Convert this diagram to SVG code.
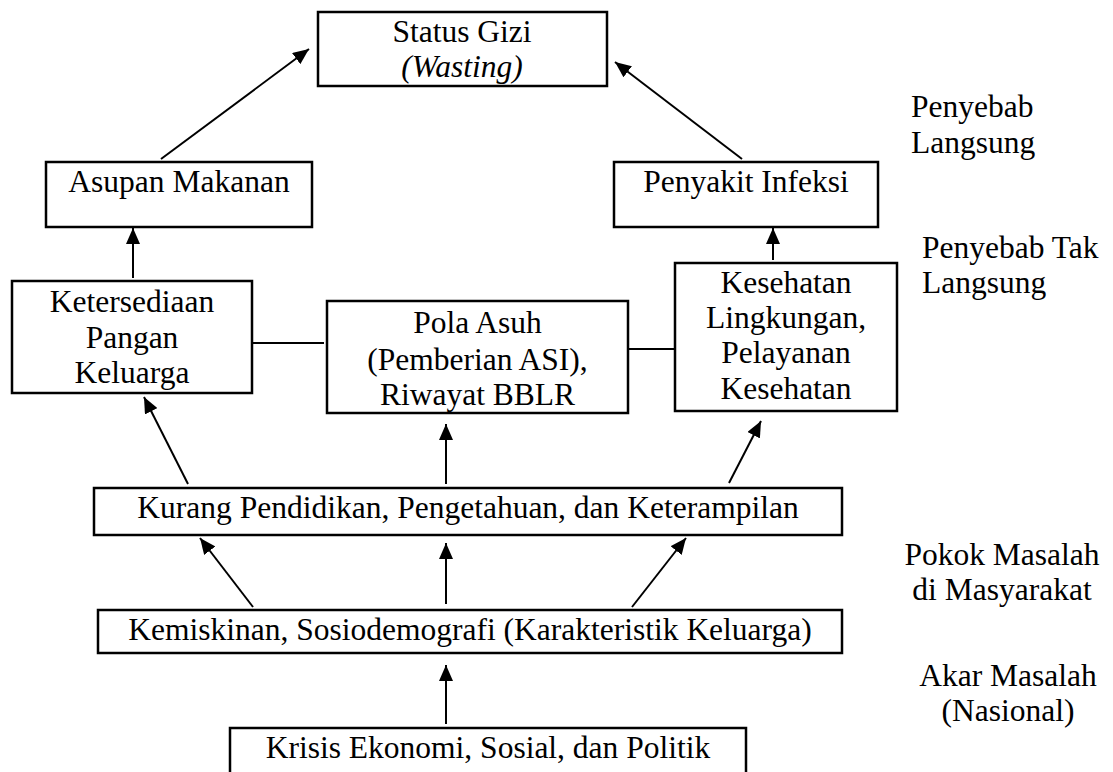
<svg xmlns="http://www.w3.org/2000/svg" width="1113" height="772" viewBox="0 0 1113 772">
<style>
text{font-family:"Liberation Serif","Times New Roman",serif;font-size:31.5px;fill:#000}
.c{text-anchor:middle}
.box{fill:#fff;stroke:#000;stroke-width:2.5}
.ln{stroke:#000;stroke-width:2;fill:none}
.ar{marker-end:url(#ah)}
</style>
<defs>
<marker id="ah" markerUnits="userSpaceOnUse" markerWidth="16" markerHeight="14" refX="16" refY="7" orient="auto">
<path d="M0,0 L16,7 L0,14 z" fill="#000"/>
</marker>
</defs>
<rect width="1113" height="772" fill="#fff"/>
<g id="connectors">
<line class="ln ar" x1="161" y1="159" x2="309" y2="49"/>
<line class="ln ar" x1="742" y1="159" x2="615" y2="62"/>
<line class="ln ar" x1="133" y1="278" x2="133" y2="228"/>
<line class="ln ar" x1="773" y1="260" x2="773" y2="228"/>
<line class="ln" x1="249" y1="343" x2="324" y2="343"/>
<line class="ln" x1="625" y1="349" x2="675" y2="349"/>
<line class="ln ar" x1="188" y1="484" x2="144" y2="397"/>
<line class="ln ar" x1="446" y1="484" x2="446" y2="424"/>
<line class="ln ar" x1="729" y1="483" x2="761" y2="421"/>
<line class="ln ar" x1="253" y1="607" x2="200" y2="538"/>
<line class="ln ar" x1="446" y1="604" x2="446" y2="543"/>
<line class="ln ar" x1="632" y1="607" x2="686" y2="538"/>
<line class="ln ar" x1="446" y1="724" x2="446" y2="665"/>
</g>
<g id="status">
<rect class="box" x="318" y="12" width="289" height="74"/>
<text class="c" x="462" y="42">Status Gizi</text>
<text class="c" x="462" y="77" font-style="italic">(Wasting)</text>
</g>
<g id="asupan">
<rect class="box" x="46" y="162" width="266" height="65"/>
<text class="c" x="179" y="192">Asupan Makanan</text>
</g>
<g id="penyakit">
<rect class="box" x="614" y="162" width="264" height="65"/>
<text class="c" x="746" y="192">Penyakit Infeksi</text>
</g>
<g id="ketersediaan">
<rect class="box" x="12" y="281" width="240" height="112"/>
<text class="c" x="132" y="312">Ketersediaan</text>
<text class="c" x="132" y="348">Pangan</text>
<text class="c" x="132" y="383">Keluarga</text>
</g>
<g id="polaasuh">
<rect class="box" x="327" y="301" width="301" height="112"/>
<text class="c" x="477.5" y="333">Pola Asuh</text>
<text class="c" x="477.5" y="370">(Pemberian ASI),</text>
<text class="c" x="477.5" y="405">Riwayat BBLR</text>
</g>
<g id="kesehatan">
<rect class="box" x="675" y="263" width="222" height="148"/>
<text class="c" x="786" y="293">Kesehatan</text>
<text class="c" x="786" y="328">Lingkungan,</text>
<text class="c" x="786" y="363">Pelayanan</text>
<text class="c" x="786" y="399">Kesehatan</text>
</g>
<g id="kurang">
<rect class="box" x="94" y="488" width="748" height="47"/>
<text class="c" x="468" y="518">Kurang Pendidikan, Pengetahuan, dan Keterampilan</text>
</g>
<g id="kemiskinan">
<rect class="box" x="98" y="610" width="744" height="43"/>
<text class="c" x="470" y="640">Kemiskinan, Sosiodemografi (Karakteristik Keluarga)</text>
</g>
<g id="krisis">
<rect class="box" x="230" y="728" width="516" height="56"/>
<text class="c" x="488" y="758">Krisis Ekonomi, Sosial, dan Politik</text>
</g>
<g id="labels">
<text x="911" y="117">Penyebab</text>
<text x="911" y="153">Langsung</text>
<text x="922" y="258">Penyebab Tak</text>
<text x="922" y="293">Langsung</text>
<text class="c" x="1002" y="565">Pokok Masalah</text>
<text class="c" x="1002" y="600">di Masyarakat</text>
<text class="c" x="1008" y="686">Akar Masalah</text>
<text class="c" x="1008" y="721">(Nasional)</text>
</g>
</svg>
